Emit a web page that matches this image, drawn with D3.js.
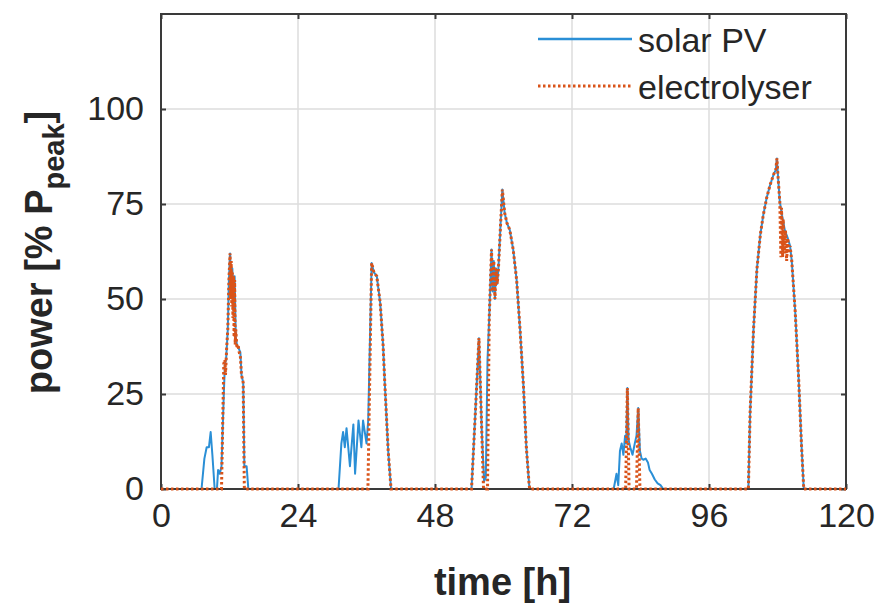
<!DOCTYPE html>
<html>
<head>
<meta charset="utf-8">
<script src="https://cdn.jsdelivr.net/npm/d3@7"></script>
<style>
  html, body { margin: 0; padding: 0; background: #fff; }
  svg { display: block; }
</style>
</head>
<body>
<svg id="chart" width="879" height="606"></svg>
<script>
// ---------------- data ----------------
const xTicks = [0, 24, 48, 72, 96, 120];
const yTicks = [0, 25, 50, 75, 100];
const seriesNames = ["solar PV", "electrolyser"];

const pvTime = [0, 7.1, 7.6, 8.0, 8.4, 8.7, 9.0, 9.4, 9.8, 10.0, 10.3, 10.6, 11.0, 11.2, 11.4, 11.7, 11.9, 12.1, 12.3, 12.5, 12.7, 12.9, 13.1, 13.3, 13.6, 13.9, 14.1, 14.4, 14.6, 15.0, 15.3,
  31.1, 31.6, 31.9, 32.2, 32.5, 33.1, 33.7, 34.0, 34.6, 35.1, 35.4, 36.0, 36.3, 36.9, 37.3, 37.8, 38.4, 38.9, 39.2, 39.8, 40.3,
  54.4, 55.0, 55.7, 56.2, 56.6, 56.9, 57.2, 57.5, 57.9, 58.1, 58.3, 58.5, 58.7, 58.9, 59.1, 59.5, 59.8, 60.2, 60.6, 61.1, 61.7, 62.3, 62.9, 63.5, 64.0, 64.5, 64.6,
  79.3, 79.8, 80.1, 80.4, 80.7, 81.0, 81.3, 81.5, 81.7, 81.9, 82.2, 82.6, 83.0, 83.3, 83.6, 83.9, 84.2, 84.5, 84.9, 85.3, 85.6, 86.0, 86.5, 87.0, 87.5, 88.0,
  102.9, 103.2, 103.8, 104.4, 105.0, 105.5, 106.1, 106.7, 107.3, 107.7, 107.9, 108.1, 108.4, 108.8, 109.3, 109.8, 110.2, 110.5, 111.1, 111.7, 112.2, 112.6, 120];
const pvPower = [0, 0, 8, 11, 11, 15, 9, 0, 0, 5, 4, 6, 25, 33, 34, 42, 55, 62, 52, 58, 47, 56, 40, 38, 37, 36, 30, 28, 6, 6, 0,
  0, 12, 15, 11, 16, 6, 17, 4, 18, 11, 18, 12, 18, 59.5, 57, 56, 49, 38, 28, 10, 0,
  0, 18, 39.7, 15, 2, 3, 34, 45, 63, 52, 60, 50, 58, 54, 57.7, 70, 78.8, 72.7, 70, 68.2, 63, 55, 42, 27, 11, 1, 0,
  0, 4, 1, 10, 12, 9, 14, 12, 26.6, 13, 11, 9, 12, 14, 21.3, 10, 8, 7.7, 8, 7, 5, 4, 2.5, 1.5, 1, 0,
  0, 20, 42, 58, 67, 72, 76.6, 80, 82.7, 84, 87, 82, 75.7, 72, 68, 66, 64, 60, 46.7, 29.2, 11.7, 0, 0];

const elTime = [0, 10.6, 11.0, 11.2, 11.3, 11.5, 11.7, 11.9, 12.1, 12.2, 12.3, 12.4, 12.5, 12.6, 12.7, 12.8, 12.9, 13.0, 13.1, 13.3, 13.5, 13.7, 13.9, 14.1, 14.4, 14.6,
  36.25, 36.9, 37.3, 37.8, 38.4, 38.9, 39.2, 39.8, 40.3,
  54.4, 55.0, 55.7, 56.2, 56.5, 57.2, 57.5, 57.9, 58.1, 58.3, 58.5, 58.7, 58.9, 59.1, 59.5, 59.8, 60.2, 60.6, 61.1, 61.7, 62.3, 62.9, 63.5, 64.0, 64.5, 64.6,
  81.4, 81.7, 82.0, 83.3, 83.6, 83.9,
  102.9, 103.2, 103.8, 104.4, 105.0, 105.5, 106.1, 106.7, 107.3, 107.7, 107.9, 108.1, 108.4, 108.6, 108.7, 108.9, 109.0, 109.2, 109.4, 109.6, 109.8, 110.0, 110.2, 110.5, 111.1, 111.7, 112.2, 112.6, 120];
const elPower = [0, 0, 33, 34, 30, 37, 42, 55, 62, 50, 60, 48, 57, 45, 56, 40, 55, 38, 42, 37, 38, 36, 35, 30, 28, 0,
  0, 59.5, 57, 56, 49, 38, 28, 10, 0,
  0, 18, 39.7, 15, 0, 0, 45, 63, 52, 60, 50, 58, 54, 57.7, 70, 78.8, 72.7, 70, 68.2, 63, 55, 42, 27, 11, 1, 0,
  0, 26.6, 0, 0, 21.3, 0,
  0, 20, 42, 58, 67, 72, 76.6, 80, 82.7, 84, 87, 82, 75.7, 61, 74, 61, 71, 62, 68, 60, 66, 62, 64, 60, 46.7, 29.2, 11.7, 0, 0];

// ---------------- layout ----------------
const svg = d3.select("#chart");
const L = 161, R = 846, T = 14, B = 489;
const x = d3.scaleLinear().domain([0, 120]).range([L, R]);
const y = d3.scaleLinear().domain([0, 125]).range([B, T]);

const axisColor = "#3a3a3a";
const textColor = "#262626";
const gridColor = "#dcdcdc";
const blue = "#2a8fd6";
const orange = "#D95319";
const font = "'Liberation Sans', Arial, Helvetica, sans-serif";

// grid
const g = svg.append("g");
g.selectAll("line.vg").data(xTicks.slice(1, -1)).enter().append("line")
  .attr("x1", d => x(d)).attr("x2", d => x(d)).attr("y1", T).attr("y2", B)
  .attr("stroke", gridColor).attr("stroke-width", 1.5);
g.selectAll("line.hg").data(yTicks.slice(1)).enter().append("line")
  .attr("x1", L).attr("x2", R).attr("y1", d => y(d)).attr("y2", d => y(d))
  .attr("stroke", gridColor).attr("stroke-width", 1.5);

// axes (bottom/left with labels, plus mirrored ticks)
const xAxis = d3.axisBottom(x).tickValues(xTicks).tickSizeInner(-5).tickSizeOuter(0).tickPadding(14);
const yAxis = d3.axisLeft(y).tickValues(yTicks).tickSizeInner(-5).tickSizeOuter(0).tickPadding(17);
const gx = svg.append("g").attr("transform", `translate(0,${B})`).call(xAxis);
const gy = svg.append("g").attr("transform", `translate(${L},0)`).call(yAxis);
const gxt = svg.append("g").attr("transform", `translate(0,${T})`).call(d3.axisTop(x).tickValues(xTicks).tickSizeInner(-5).tickSizeOuter(0).tickFormat(""));
const gyr = svg.append("g").attr("transform", `translate(${R},0)`).call(d3.axisRight(y).tickValues(yTicks).tickSizeInner(-5).tickSizeOuter(0).tickFormat(""));
[gx, gy, gxt, gyr].forEach(a => {
  a.select(".domain").remove();
  a.selectAll(".tick line").attr("stroke", axisColor).attr("stroke-width", 2);
  a.selectAll(".tick text").attr("fill", textColor).attr("font-family", font).attr("font-size", 34);
});
gx.selectAll(".tick text").attr("dy", "0.71em");

// data lines
const mk = (ts, vs) => ts.map((t, i) => [t, vs[i]]);
const line = d3.line().x(d => x(d[0])).y(d => y(d[1]));
svg.append("path").datum(mk(pvTime, pvPower)).attr("d", line)
  .attr("fill", "none").attr("stroke", blue).attr("stroke-width", 2).attr("stroke-linejoin", "round");

// box
svg.append("rect").attr("x", L).attr("y", T).attr("width", R - L).attr("height", B - T)
  .attr("fill", "none").attr("stroke", axisColor).attr("stroke-width", 2);

svg.append("path").datum(mk(elTime, elPower)).attr("d", line)
  .attr("fill", "none").attr("stroke", orange).attr("stroke-width", 3)
  .attr("stroke-dasharray", "2.5,2.5");

// axis titles
svg.append("text").attr("x", (L + R) / 2 - 1).attr("y", 595).attr("text-anchor", "middle")
  .attr("font-family", font).attr("font-weight", "bold").attr("font-size", 38).attr("fill", textColor)
  .text("time [h]");
const yt = svg.append("text").attr("transform", `translate(52,${(T + B) / 2 + 1}) rotate(-90)`)
  .attr("text-anchor", "middle").attr("font-family", font).attr("font-weight", "bold")
  .attr("font-size", 38).attr("fill", textColor);
yt.append("tspan").text("power [% P");
yt.append("tspan").attr("font-size", 29).attr("dy", 12).text("peak");
yt.append("tspan").attr("dy", -12).text("]");

// legend
const leg = svg.append("g");
const legY = [39, 86];
leg.selectAll("line").data(seriesNames).enter().append("line")
  .attr("x1", 538).attr("x2", 632).attr("y1", (d, i) => legY[i]).attr("y2", (d, i) => legY[i])
  .attr("stroke", (d, i) => i === 0 ? blue : orange)
  .attr("stroke-width", (d, i) => i === 0 ? 2.5 : 3)
  .attr("stroke-dasharray", (d, i) => i === 0 ? null : "2.5,2.5");
leg.selectAll("text").data(seriesNames).enter().append("text")
  .attr("x", 638).attr("y", (d, i) => legY[i] + 13)
  .attr("font-family", font).attr("font-size", 34).attr("fill", textColor)
  .text(d => d);
</script>
</body>
</html>
